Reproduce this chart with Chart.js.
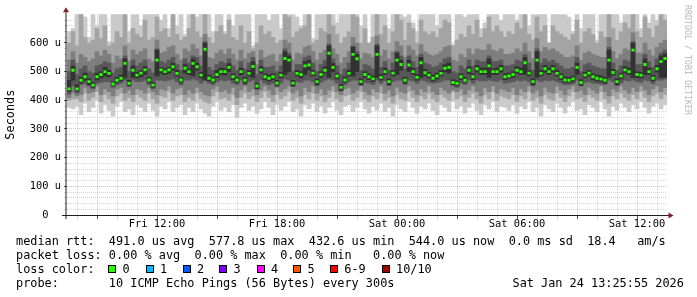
<!DOCTYPE html>
<html>
<head>
<meta charset="utf-8">
<script src="https://cdn.jsdelivr.net/npm/chart.js@4.4.1/dist/chart.umd.min.js"></script>
<style>
html,body{margin:0;padding:0;background:#fff;}
#wrap{position:relative;width:697px;height:297px;overflow:hidden;background:#fff;}
#c{position:absolute;left:0;top:0;}
.lg{position:absolute;left:16px;font-family:"DejaVu Sans Mono",monospace;font-size:11.86px;line-height:14px;white-space:pre;color:#000;}
.box{position:absolute;width:8px;height:8px;box-sizing:border-box;border:1px solid #000;}
.wm{position:absolute;left:692.5px;top:5px;transform-origin:0 0;transform:rotate(90deg);font-family:"DejaVu Sans Mono",monospace;font-size:8.3px;line-height:10px;white-space:pre;color:#b8b8b8;}
</style>
</head>
<body>
<div id="wrap">
<canvas id="c" width="697" height="297"></canvas>
<div class="wm">RRDTOOL / TOBI OETIKER</div>
<div class="lg" id="l1" style="top:233.6px"></div>
<div class="lg" id="l2" style="top:247.6px"></div>
<div class="lg" style="top:261.6px">loss color:</div>
<div id="lossrow"></div>
<div class="lg" id="l4" style="top:275.6px"></div>
<div class="lg" id="l5" style="top:275.6px;left:512.5px"></div>
</div>
<script>
// ---- time axis (hours since Fri 00:00), 12-minute columns ----
const startHour = 7.5;
const stepHours = 0.2;
const xTickHours = [12, 18, 24, 30, 36];
const xTickLabels = ['Fri 12:00', 'Fri 18:00', 'Sat 00:00', 'Sat 06:00', 'Sat 12:00'];
const yTickValues = [0, 100, 200, 300, 400, 500, 600];
const yTickLabels = ['0  ', '100 u', '200 u', '300 u', '400 u', '500 u', '600 u'];

// ---- sorted ping values per column, microseconds ----
const pingMin = [
375,370,380,350,390,360,375,400,355,385,
365,345,380,395,360,370,350,385,375,360,
390,365,345,380,370,395,360,375,385,350,
375,360,390,370,355,345,380,395,365,375,
360,385,340,375,390,365,380,355,370,395,
375,350,385,365,380,395,360,370,345,385,
370,390,360,380,355,375,395,365,350,380,
385,360,375,395,370,355,380,365,390,360,
375,345,385,370,360,395,375,355,380,370,
390,365,350,385,375,360,395,370,380,355,
375,390,365,350,385,370,395,360,380,375,
365,385,355,380,370,395,360,375,345,385,
370,360,390,375,355,380,395,365,370,350,
385,375,360,395,370,345,380,365,390,375,
360,385,370,395,375,355,380,390,370,385];
const ping2 = [
400,405,405,395,425,400,410,430,395,420,
405,390,415,425,400,410,395,420,410,400,
425,405,390,415,410,430,400,415,420,395,
410,400,425,405,395,390,415,430,405,410,
400,420,385,410,425,405,415,395,410,430,
410,395,420,405,415,430,400,410,390,420,
405,425,400,415,395,410,430,405,395,415,
420,400,410,430,405,395,415,405,425,400,
410,390,420,405,400,430,410,395,415,405,
425,405,395,420,410,400,430,405,415,395,
410,425,405,390,420,405,430,400,415,410,
405,420,395,415,405,430,400,410,390,420,
405,400,425,410,395,415,430,405,410,395,
420,410,400,430,405,390,415,405,425,410,
400,420,405,430,410,395,415,425,405,420];
const ping3 = [
410,425,415,420,445,425,430,450,420,440,
430,415,440,445,425,435,420,440,435,425,
445,430,420,440,435,450,425,440,445,420,
435,425,445,430,420,415,440,450,430,435,
425,445,410,435,450,430,440,420,435,450,
435,420,445,430,440,450,425,435,415,445,
430,450,425,440,420,435,450,430,420,440,
445,425,435,450,430,420,440,430,450,425,
435,415,445,430,425,450,435,420,440,430,
450,430,420,445,435,425,435,430,440,420,
435,450,430,415,445,430,450,425,440,435,
430,445,420,440,430,450,425,435,415,445,
430,425,450,435,420,440,450,430,435,420,
445,435,425,450,430,415,440,430,450,435,
425,445,430,450,435,420,440,450,430,445];
const ping4 = [
422,450,425,455,460,450,440,460,462,465,
465,445,455,460,470,448,470,465,465,470,
455,440,470,470,468,470,475,465,455,470,
470,475,470,460,470,460,455,465,470,468,
470,460,455,470,455,465,470,440,470,460,
455,460,448,460,475,470,448,465,462,470,
470,465,450,462,470,475,470,460,432,455,
465,470,470,452,462,460,455,470,460,468,
450,465,470,470,455,470,468,460,470,468,
462,460,462,465,470,470,450,445,460,455,
470,460,470,468,468,470,468,466,470,460,
462,465,470,468,470,465,450,470,465,470,
468,470,465,460,455,455,458,470,450,462,
465,460,458,456,455,470,465,450,460,470,
468,470,465,462,470,468,458,470,470,475];
const ping5 = [
430,470,432,460,470,455,445,470,478,485,
482,450,462,468,480,452,480,478,482,490,
462,445,485,495,490,495,505,485,462,495,
490,485,505,478,470,468,462,480,490,488,
500,472,462,488,460,485,480,440,495,472,
468,472,452,478,490,500,450,485,478,490,
505,485,455,480,495,480,500,475,435,462,
485,485,500,455,480,472,465,480,470,490,
455,485,490,505,460,500,490,470,480,485,
478,468,475,485,500,495,455,450,472,462,
492,472,498,490,490,480,490,490,498,472,
476,480,495,490,490,485,455,480,485,498,
490,498,485,472,462,462,465,490,452,478,
485,472,468,465,460,480,488,455,475,495,
490,480,480,478,490,490,468,498,480,480];
const ping6 = [
470,520,455,480,495,475,462,495,500,515,
505,465,480,488,545,470,520,498,505,518,
480,462,575,515,510,515,530,505,480,525,
510,545,530,498,600,488,480,505,512,510,
528,492,480,512,480,505,535,460,518,492,
488,492,470,498,570,555,470,505,500,535,
540,505,475,500,518,590,528,495,455,482,
505,585,560,475,500,492,485,590,490,512,
475,505,565,540,480,540,512,490,550,508,
498,488,495,505,525,530,472,468,492,480,
518,492,522,512,512,545,510,512,522,492,
495,500,518,512,550,505,475,570,505,522,
512,522,505,492,482,480,485,530,472,498,
505,492,488,485,480,575,508,475,495,518,
512,600,500,498,545,512,488,522,555,562];
const ping7 = [
500,540,490,510,520,500,495,520,525,535,
530,495,510,515,555,500,540,520,530,540,
510,495,580,535,530,540,550,525,505,545,
530,555,550,520,605,515,505,525,535,530,
545,520,505,535,510,530,550,490,540,515,
515,520,500,520,580,565,500,525,525,550,
555,530,500,525,540,595,545,520,490,510,
530,590,570,505,525,520,510,595,515,535,
505,530,570,555,510,555,535,515,560,530,
525,515,520,530,545,550,500,495,520,510,
540,520,540,535,535,555,535,535,540,520,
520,525,540,535,560,530,505,580,530,545,
535,540,530,520,510,510,515,550,500,525,
530,520,515,510,510,585,530,505,520,540,
535,605,525,525,560,535,515,545,565,575];
const ping8 = [
540,570,530,560,550,535,545,570,555,575,
560,530,555,545,590,535,575,560,570,580,
545,535,610,565,570,585,590,560,540,580,
570,595,580,555,630,550,545,565,575,560,
580,560,540,575,545,565,570,525,575,550,
555,560,535,560,610,600,540,565,560,585,
590,570,540,565,575,630,580,560,530,550,
570,620,600,545,565,560,550,625,555,575,
545,570,605,590,550,590,575,555,595,570,
560,555,560,570,585,590,540,535,560,550,
580,560,580,575,575,595,575,570,580,560,
560,565,580,570,600,570,545,615,570,585,
575,580,570,560,550,550,555,590,540,565,
570,560,555,550,550,620,570,545,560,580,
575,635,565,565,600,575,555,585,600,610];
const ping9 = [
600,640,590,700,620,600,610,650,615,660,
590,600,640,620,700,600,650,630,620,680,
610,620,690,640,650,620,700,630,610,620,
650,700,640,620,700,620,600,640,660,630,
680,620,610,660,600,640,580,600,660,630,
640,620,600,610,700,690,620,640,650,660,
700,600,610,650,640,700,660,630,600,620,
640,700,690,600,650,600,620,700,630,660,
600,640,700,680,610,670,650,600,680,640,
630,640,620,650,680,670,590,610,630,620,
660,630,680,620,650,690,640,660,640,620,
640,630,670,650,700,630,610,690,640,660,
600,660,640,630,620,610,630,680,600,640,
650,630,600,640,620,700,650,610,640,670,
650,700,640,620,690,650,620,660,700,680];
const pingMax = [
640,650,700,700,690,620,700,660,700,700,
605,700,700,700,700,640,700,700,660,700,
700,700,700,680,700,650,700,660,700,630,
700,700,690,700,700,700,640,700,700,640,
700,660,700,700,700,700,590,700,700,700,
680,700,700,650,700,700,700,690,660,700,
700,615,700,700,700,700,700,670,700,700,
700,700,700,660,700,600,700,700,700,700,
650,700,700,700,690,700,670,640,700,700,
700,700,660,700,700,700,595,700,700,690,
700,700,700,650,670,700,700,700,680,700,
700,700,680,700,700,660,700,700,700,700,
600,700,700,700,700,690,640,700,650,700,
700,700,610,700,700,700,700,700,670,700,
700,700,700,650,700,670,700,680,700,700];
const medianRtt = [
440,505,440,470,482,465,453,482,490,500,
494,457,470,477,529,459,505,488,495,506,
471,453,540,506,500,506,517,494,471,512,
500,529,517,488,578,477,471,490,500,500,
515,482,471,500,470,494,518,450,506,482,
477,482,460,488,546,540,460,494,490,520,
523,495,465,490,505,564,515,485,445,471,
494,560,545,465,490,482,475,560,480,500,
465,495,540,525,470,523,500,480,531,496,
488,477,485,494,512,515,462,459,482,470,
505,482,510,500,500,520,500,500,510,482,
485,490,505,500,531,495,465,540,494,510,
500,510,494,482,471,470,475,515,462,488,
495,482,477,474,470,540,497,465,485,506,
500,575,490,488,525,500,477,510,535,546];

// ---- legend content ----
const rttStats = ['491.0 us avg', '577.8 us max', '432.6 us min', '544.0 us now', '0.0 ms sd', '18.4   am/s'];
const lossStats = ['0.00 % avg', '0.00 % max', '0.00 % min ', '0.00 % now'];
const lossLabels = ['0', '1', '2', '3', '4', '5', '6-9', '10/10'];
const lossColors = ['#26ff00', '#00b8ff', '#0059ff', '#7e00ff', '#ff00ff', '#ff5500', '#ff0000', '#a10000'];
const lossBoxX = [108.3, 145.7, 182.7, 219.3, 256.7, 293.3, 330, 381.7];
const probeText = '10 ICMP Echo Pings (56 Bytes) every 300s';
const stampText = 'Sat Jan 24 13:25:55 2026';

document.getElementById('l1').textContent = 'median rtt:  ' + rttStats.join('  ');
document.getElementById('l2').textContent = 'packet loss: ' + lossStats.join('  ');
document.getElementById('l4').textContent = 'probe:       ' + probeText;
document.getElementById('l5').textContent = stampText;
const row = document.getElementById('lossrow');
lossLabels.forEach((lab, i) => {
  const b = document.createElement('div');
  b.className = 'box';
  b.style.left = lossBoxX[i] + 'px';
  b.style.top = '264.5px';
  b.style.background = lossColors[i];
  row.appendChild(b);
  const t = document.createElement('div');
  t.className = 'lg';
  t.style.left = (lossBoxX[i] + 14.3) + 'px';
  t.style.top = '261.6px';
  t.textContent = lab;
  row.appendChild(t);
});

// ---- chart ----
const times = medianRtt.map((_, i) => startHour + stepHours * (i + 0.5));
const bandDefs = [
  [pingMin, pingMax, '#cacaca'],
  [ping2, ping9, '#a4a4a4'],
  [ping3, ping8, '#7e7e7e'],
  [ping4, ping7, '#585858'],
  [ping5, ping6, '#323232']
];
const datasets = bandDefs.map(([lo, hi, col], k) => ({
  type: 'bar',
  data: lo.map((v, i) => ({x: times[i], y: [v, hi[i]]})),
  backgroundColor: col,
  borderWidth: 0,
  grouped: false,
  barPercentage: 1,
  categoryPercentage: 1,
  order: 10 - k
}));
datasets.push({
  type: 'bar',
  data: medianRtt.map((m, i) => ({x: times[i], y: [m - 5, m + 5]})),
  backgroundColor: lossColors[0],
  borderWidth: 0,
  grouped: false,
  barPercentage: 0.8,
  categoryPercentage: 1,
  inflateAmount: 0,
  order: 0
});

const GREY = 'rgba(143,143,143,0.38)';
const RED = 'rgba(222,79,79,0.45)';
const MONO = "'DejaVu Sans Mono', monospace";

const axesPlugin = {
  id: 'rrdAxes',
  afterDraw(chart) {
    const {ctx, chartArea: a} = chart;
    ctx.save();
    ctx.lineWidth = 1;
    ctx.strokeStyle = '#1f1f1f';
    ctx.beginPath();
    ctx.moveTo(a.left - 1, a.top - 2);
    ctx.lineTo(a.left - 1, a.bottom + 4);
    ctx.stroke();
    ctx.beginPath();
    ctx.moveTo(a.left - 5, a.bottom + 0.5);
    ctx.lineTo(a.right + 2, a.bottom + 0.5);
    ctx.stroke();
    ctx.fillStyle = '#7f1f1f';
    ctx.beginPath();
    ctx.moveTo(a.left - 4, a.top - 2);
    ctx.lineTo(a.left + 2, a.top - 2);
    ctx.lineTo(a.left - 1, a.top - 7);
    ctx.closePath();
    ctx.fill();
    ctx.beginPath();
    ctx.moveTo(a.right + 1.5, a.bottom - 2.5);
    ctx.lineTo(a.right + 1.5, a.bottom + 3.5);
    ctx.lineTo(a.right + 6.5, a.bottom + 0.5);
    ctx.closePath();
    ctx.fill();
    ctx.restore();
  }
};

new Chart(document.getElementById('c'), {
  type: 'bar',
  data: {datasets},
  options: {
    responsive: false,
    animation: false,
    devicePixelRatio: 1,
    layout: {padding: {top: 14.3, right: 30, bottom: 0, left: 0}},
    plugins: {legend: {display: false}, tooltip: {enabled: false}},
    scales: {
      x: {
        type: 'linear',
        min: 7.5,
        max: 37.5,
        offset: false,
        z: 1,
        afterFit(s) { s.height = 82; },
        afterBuildTicks(s) {
          const t = [];
          for (let h = 8; h <= 37; h++) t.push({value: h});
          s.ticks = t;
        },
        ticks: {
          autoSkip: false, maxRotation: 0, minRotation: 0, padding: 0,
          color: '#000',
          font: {family: MONO, size: 10.4, lineHeight: 1},
          callback: v => { const k = xTickHours.indexOf(v); return k >= 0 ? xTickLabels[k] : ''; }
        },
        grid: {
          offset: false,
          lineWidth: 1,
          color: c => (c.tick && c.tick.value % 3 === 0) ? RED : GREY,
          tickColor: c => (c.tick && c.tick.value % 3 === 0) ? '#555' : GREY,
          tickLength: 4,
          tickBorderDash: []
        },
        border: {display: false, dash: [1, 1]}
      },
      y: {
        min: 0,
        max: 700,
        z: 1,
        afterFit(s) { s.width = 67; },
        afterBuildTicks(s) {
          const t = [];
          for (let v = 0; v < 700; v += 20) t.push({value: v});
          s.ticks = t;
        },
        ticks: {
          autoSkip: false, padding: 3, color: '#000',
          font: {family: MONO, size: 10.4, lineHeight: 1},
          callback: v => { const k = yTickValues.indexOf(v); return k >= 0 ? yTickLabels[k] : ''; }
        },
        grid: {
          lineWidth: 1,
          color: c => (c.tick && c.tick.value % 100 === 0) ? RED : GREY,
          tickColor: c => (c.tick && c.tick.value % 100 === 0) ? '#555' : GREY,
          tickLength: 3,
          tickBorderDash: []
        },
        border: {display: false, dash: [1, 1]},
        title: {
          display: true, text: 'Seconds', color: '#000',
          font: {family: MONO, size: 11.86},
          padding: {top: 4, bottom: 4}
        }
      }
    }
  },
  plugins: [axesPlugin]
});
</script>
</body>
</html>
